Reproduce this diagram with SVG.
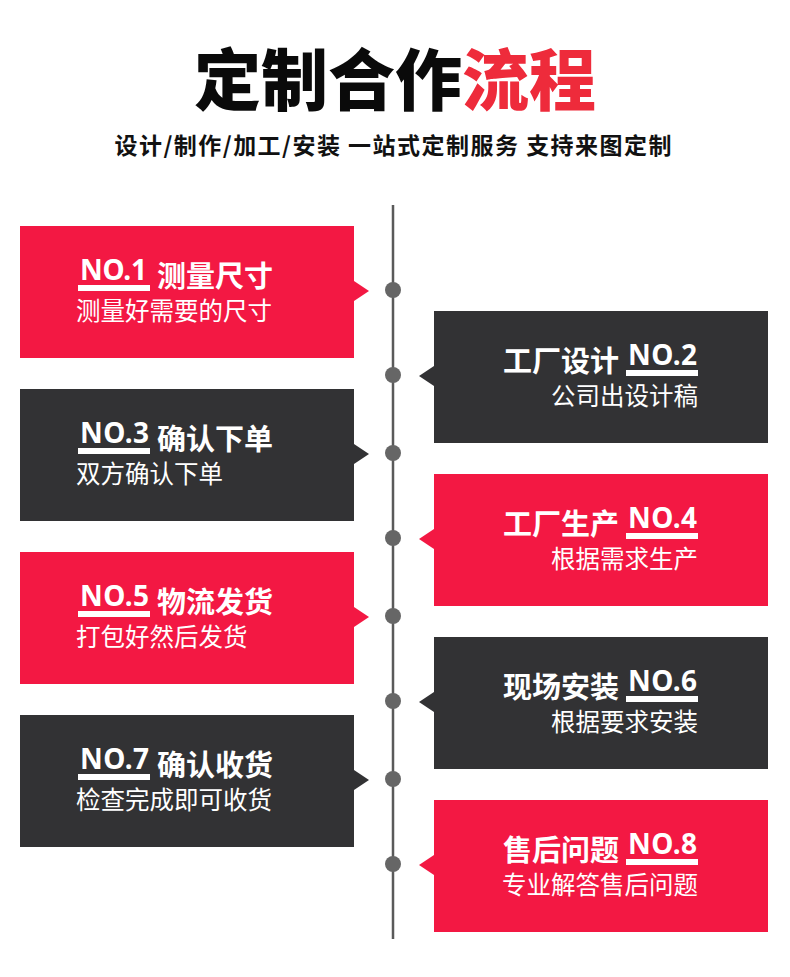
<svg xmlns="http://www.w3.org/2000/svg" width="790" height="977" viewBox="0 0 790 977">
<style>
.red{fill:#f31843}
.dark{fill:#323234}
.cjk{font-family:"Noto Sans CJK SC","Noto Sans",sans-serif}
.ttl{font-size:29px;font-weight:700;fill:#fff}
.sub{font-size:24.5px;font-weight:400;fill:#fff}
.no{font-family:"Noto Sans","Open Sans",sans-serif;font-size:28px;font-weight:700;fill:#fff}
.ul{fill:#fff}
.dot{fill:#666}
</style>
<rect width="790" height="977" fill="#fff"/>
<g id="header">
<text class="cjk" x="395" y="105" text-anchor="middle" font-size="67" font-weight="900" fill="#0a0a0a">定制合作<tspan fill="#ee2b3b">流程</tspan></text>
<text class="cjk" x="393" y="154" text-anchor="middle" font-size="23" font-weight="700" fill="#111" textLength="557" lengthAdjust="spacing">设计/制作/加工/安装 一站式定制服务 支持来图定制</text>
</g>
<g id="connectors">
<line x1="393" y1="205" x2="393" y2="939" stroke="#5a5a5a" stroke-width="2.5"/>
<circle class="dot" cx="393" cy="290" r="8"/>
<circle class="dot" cx="393" cy="375" r="8"/>
<circle class="dot" cx="393" cy="453" r="8"/>
<circle class="dot" cx="393" cy="538" r="8"/>
<circle class="dot" cx="393" cy="616" r="8"/>
<circle class="dot" cx="393" cy="701" r="8"/>
<circle class="dot" cx="393" cy="779" r="8"/>
<circle class="dot" cx="393" cy="864" r="8"/>
</g>
<g id="step1">
<rect class="red" x="20" y="226" width="334" height="132"/>
<polygon class="red" points="354,281 369,291 354,301"/>
<text class="no" x="80" y="280" textLength="67">NO.1</text>
<rect class="ul" x="78" y="285" width="72" height="6"/>
<text class="cjk ttl" x="157" y="287">测量尺寸</text>
<text class="cjk sub" x="76" y="320">测量好需要的尺寸</text>
</g>
<g id="step2">
<rect class="dark" x="434" y="311" width="334" height="132"/>
<polygon class="dark" points="434,366 419,376 434,386"/>
<text class="no" x="628" y="365" textLength="69">NO.2</text>
<rect class="ul" x="626" y="370" width="72" height="6"/>
<text class="cjk ttl" x="619" y="372" text-anchor="end">工厂设计</text>
<text class="cjk sub" x="698" y="405" text-anchor="end">公司出设计稿</text>
</g>
<g id="step3">
<rect class="dark" x="20" y="389" width="334" height="132"/>
<polygon class="dark" points="354,444 369,454 354,464"/>
<text class="no" x="80" y="443" textLength="69">NO.3</text>
<rect class="ul" x="78" y="448" width="72" height="6"/>
<text class="cjk ttl" x="157" y="450">确认下单</text>
<text class="cjk sub" x="76" y="483">双方确认下单</text>
</g>
<g id="step4">
<rect class="red" x="434" y="474" width="334" height="132"/>
<polygon class="red" points="434,529 419,539 434,549"/>
<text class="no" x="628" y="528" textLength="69">NO.4</text>
<rect class="ul" x="626" y="533" width="72" height="6"/>
<text class="cjk ttl" x="619" y="535" text-anchor="end">工厂生产</text>
<text class="cjk sub" x="698" y="568" text-anchor="end">根据需求生产</text>
</g>
<g id="step5">
<rect class="red" x="20" y="552" width="334" height="132"/>
<polygon class="red" points="354,607 369,617 354,627"/>
<text class="no" x="80" y="606" textLength="69">NO.5</text>
<rect class="ul" x="78" y="611" width="72" height="6"/>
<text class="cjk ttl" x="157" y="613">物流发货</text>
<text class="cjk sub" x="76" y="646">打包好然后发货</text>
</g>
<g id="step6">
<rect class="dark" x="434" y="637" width="334" height="132"/>
<polygon class="dark" points="434,692 419,702 434,712"/>
<text class="no" x="628" y="691" textLength="69">NO.6</text>
<rect class="ul" x="626" y="696" width="72" height="6"/>
<text class="cjk ttl" x="619" y="698" text-anchor="end">现场安装</text>
<text class="cjk sub" x="698" y="731" text-anchor="end">根据要求安装</text>
</g>
<g id="step7">
<rect class="dark" x="20" y="715" width="334" height="132"/>
<polygon class="dark" points="354,770 369,780 354,790"/>
<text class="no" x="80" y="769" textLength="69">NO.7</text>
<rect class="ul" x="78" y="774" width="72" height="6"/>
<text class="cjk ttl" x="157" y="776">确认收货</text>
<text class="cjk sub" x="76" y="809">检查完成即可收货</text>
</g>
<g id="step8">
<rect class="red" x="434" y="800" width="334" height="132"/>
<polygon class="red" points="434,855 419,865 434,875"/>
<text class="no" x="628" y="854" textLength="69">NO.8</text>
<rect class="ul" x="626" y="859" width="72" height="6"/>
<text class="cjk ttl" x="619" y="861" text-anchor="end">售后问题</text>
<text class="cjk sub" x="698" y="894" text-anchor="end">专业解答售后问题</text>
</g>
</svg>
